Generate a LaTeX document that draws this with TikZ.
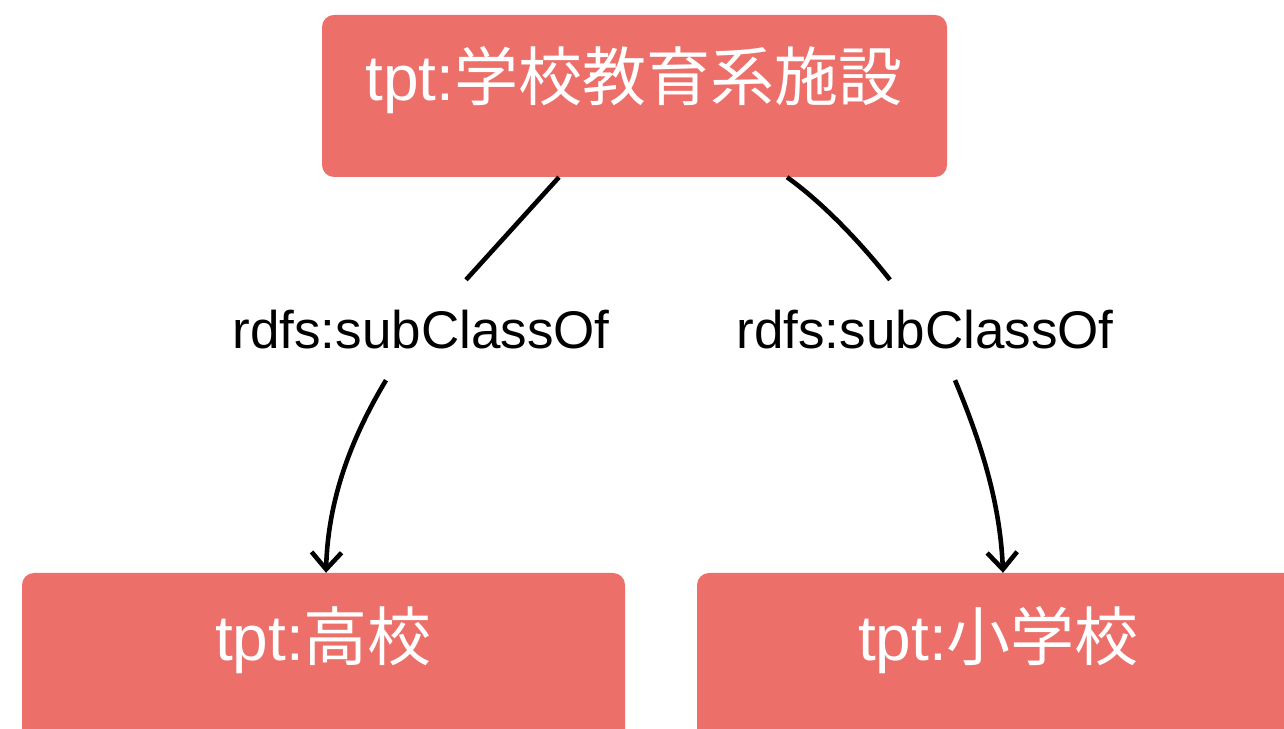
\documentclass[tikz,border=0pt]{standalone}
\usepackage{fontspec}
\setmainfont{Liberation Sans}
\newfontfamily\cjk{Noto Sans CJK JP}
\usetikzlibrary{arrows.meta}
\definecolor{boxred}{RGB}{236,111,106}
\tikzset{
  classbox/.style={fill=boxred, rounded corners=12pt, draw=none, inner sep=0pt},
  boxtext/.style={text=white, font=\fontsize{64}{70}\selectfont, inner sep=0pt},
  rel/.style={font=\fontsize{53}{60}\selectfont, inner sep=0pt, text=black},
  edge/.style={line width=4.6pt, black},
  tip/.style={-{Straight Barb[length=17pt,width=30pt]}}
}
\begin{document}
\begin{tikzpicture}[x=1pt,y=1pt]
\useasboundingbox (0,0) rectangle (1284,728);
\fill[white] (0,0) rectangle (1284,728);

% class boxes
\node[classbox, minimum width=625pt, minimum height=162pt] (top) at (634.5,632) {};
\node[boxtext] (toptext) at (634,648) {tpt:\cjk{学校教育系施設}};

\node[classbox, minimum width=603pt, minimum height=180pt] (hs) at (323.5,65) {};
\node[boxtext] (hstext) at (323.5,88) {tpt:\cjk{高校}};

\node[classbox, minimum width=603pt, minimum height=180pt] (es) at (998.5,65) {};
\node[boxtext] (estext) at (998.5,88) {tpt:\cjk{小学校}};

% relation labels
\node[rel, minimum height=100pt] (rl) at (421,398) {rdfs:subClassOf};
\node[rel, minimum height=100pt] (rr) at (925,398) {rdfs:subClassOf};

% subclass edges, broken around their labels
\draw[edge] ([xshift=-75.5pt]top.south) -- ([xshift=45pt]rl.north);
\draw[edge, tip] ([xshift=-35pt]rl.south)
  .. controls +(-36,-60) and +(2,72) .. ([xshift=2.5pt]hs.north);

\draw[edge] ([xshift=152.5pt]top.south)
  .. controls +(35,-25) and +(-30,38) .. ([xshift=-35pt]rr.north);
\draw[edge, tip] ([xshift=30pt]rr.south)
  .. controls +(25,-60) and +(-3,72) .. ([xshift=4.5pt]es.north);
\end{tikzpicture}
\end{document}
